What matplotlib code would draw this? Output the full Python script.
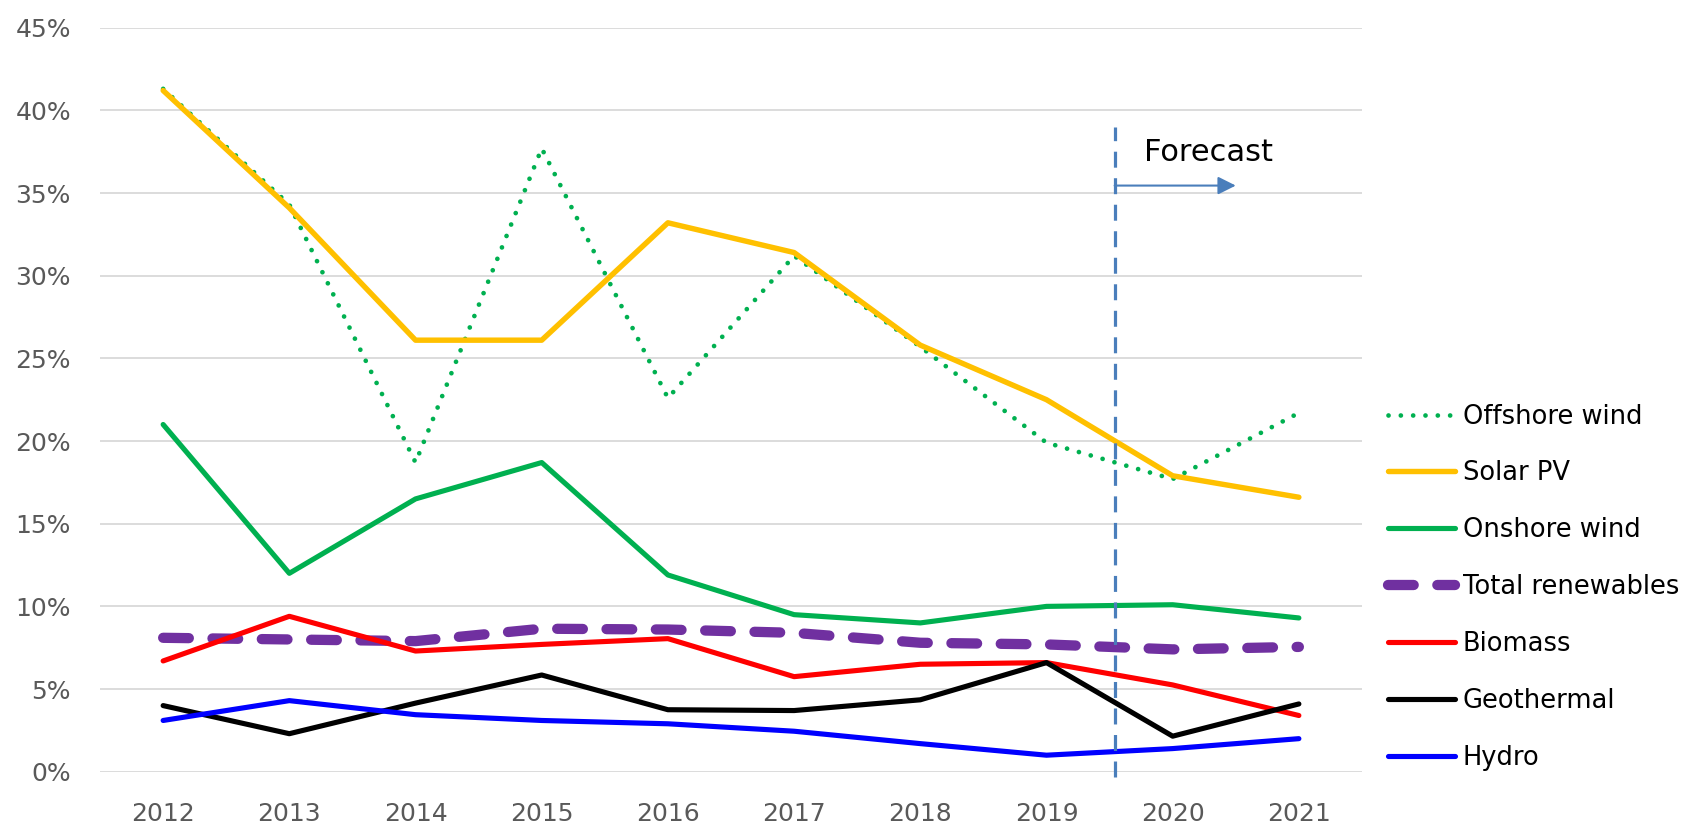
import matplotlib.pyplot as plt
import numpy as np

years = ["2012", "2013", "2014", "2015", "2016", "2017", "2018", "2019", "2020", "2021"]

offshore_wind = [41.3, 34.3, 18.7, 37.7, 22.6, 31.2, 25.7, 19.9, 17.7, 21.7]
solar_pv = [41.2, 34.1, 26.1, 26.1, 33.2, 31.4, 25.8, 22.5, 17.9, 16.6]
onshore_wind = [21.0, 12.0, 16.5, 18.7, 11.9, 9.5, 9.0, 10.0, 10.1, 9.3]
total_renewables = [8.1, 8.0, 7.9, 8.65, 8.6, 8.4, 7.8, 7.7, 7.4, 7.55]
biomass = [6.7, 9.4, 7.3, 7.7, 8.05, 5.75, 6.5, 6.6, 5.25, 3.4]
geothermal = [4.0, 2.3, 4.15, 5.85, 3.75, 3.7, 4.35, 6.6, 2.15, 4.1]
hydro = [3.1, 4.3, 3.45, 3.1, 2.9, 2.45, 1.7, 1.0, 1.4, 2.0]

y_ticks = [0, 5, 10, 15, 20, 25, 30, 35, 40, 45]

fig = plt.figure(figsize=(16.9, 8.26), dpi=100)
ax = fig.add_axes([0.0592, 0.0657, 0.7467, 0.9008])

x = np.arange(len(years))

ax.plot(x, offshore_wind, color="#00B050", lw=3.4, linestyle=(0, (0.01, 2.6)),
        dash_capstyle="round", label="Offshore wind")
ax.plot(x, solar_pv, color="#FFC000", lw=3.9, label="Solar PV", solid_capstyle="round")
ax.plot(x, onshore_wind, color="#00B050", lw=3.7, label="Onshore wind", solid_capstyle="round")
ax.plot(x, total_renewables, color="#7030A0", lw=7.4, linestyle=(0, (2.5, 2.3)),
        dash_capstyle="round", label="Total renewables")
ax.plot(x, biomass, color="#FF0000", lw=3.7, label="Biomass", solid_capstyle="round")
ax.plot(x, geothermal, color="#000000", lw=3.7, label="Geothermal", solid_capstyle="round")
ax.plot(x, hydro, color="#0000FF", lw=3.7, label="Hydro", solid_capstyle="round")

# forecast marker
fx = 7.54
ax.plot([fx, fx], [-0.3, 39.0], color="#4A7EBB", lw=2.3, linestyle=(0, (5, 3.3)),
        clip_on=False)
ax.annotate("", xy=(8.5, 35.45), xytext=(fx, 35.45),
            arrowprops=dict(arrowstyle="-|>,head_length=0.6,head_width=0.3",
                            mutation_scale=18, color="#4A7EBB", lw=1.5,
                            shrinkA=0, shrinkB=0))
ax.text(7.77, 37.45, "Forecast", fontsize=22, ha="left", va="center", color="black")

ax.set_xlim(-0.5, 9.5)
ax.set_ylim(0, 45)
ax.set_xticks(x)
ax.set_xticklabels(years)
ax.set_yticks(y_ticks)
ax.set_yticklabels([f"{t}%" for t in y_ticks])
ax.tick_params(axis="both", length=0, labelsize=18, labelcolor="#595959")
ax.tick_params(axis="y", pad=21)
ax.tick_params(axis="x", pad=22)
ax.grid(axis="y", color="#D9D9D9", lw=1.3)
ax.set_axisbelow(True)
for s in ax.spines.values():
    s.set_visible(False)

fig.legend(loc="upper left", bbox_to_anchor=(0.8213, 0.5115), frameon=False,
           fontsize=18.5, handlelength=2.6, handletextpad=0.3, labelspacing=1.2,
           borderpad=0, borderaxespad=0)

fig.savefig("out.png", dpi=100)
